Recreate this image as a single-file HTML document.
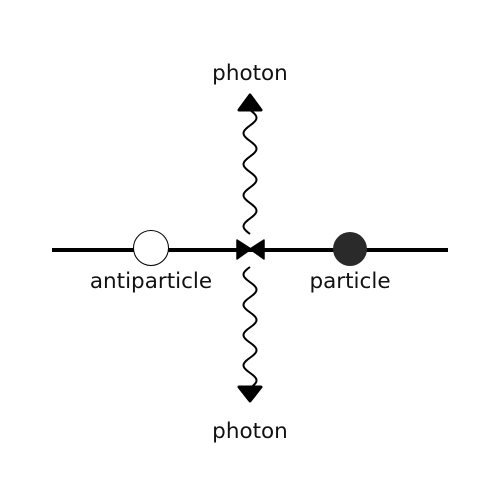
<!DOCTYPE html>
<html><head><meta charset="utf-8"><style>
body{margin:0;background:#fff}
svg{display:block}
text{font-family:"DejaVu Sans",sans-serif;font-size:21.5px;fill:#111}
</style></head><body>
<svg width="500" height="500">
<line x1="52" y1="250" x2="448" y2="250" stroke="#000" stroke-width="4"/>
<circle cx="151" cy="248" r="17.5" fill="#fff" stroke="#000" stroke-width="1"/>
<circle cx="350" cy="249" r="17" fill="#2a2a2a"/>
<path d="M237,240 L251,249 L237,259 Z M264,240 L250,249 L264,259 Z" fill="#000" stroke="#000" stroke-width="1.5" stroke-linejoin="round"/>
<path id="w1" fill="none" stroke="#000" stroke-width="2"/>
<path id="w2" fill="none" stroke="#000" stroke-width="2"/>
<path d="M250,95 L261,110 L239,110 Z" fill="#000" stroke="#000" stroke-width="3" stroke-linejoin="round"/>
<path d="M250,401 L261,387 L239,387 Z" fill="#000" stroke="#000" stroke-width="3" stroke-linejoin="round"/>
<text x="250" y="80" text-anchor="middle">photon</text>
<text x="250" y="438" text-anchor="middle">photon</text>
<text x="151" y="288" text-anchor="middle">antiparticle</text>
<text x="350" y="288" text-anchor="middle">particle</text>
</svg>
<script>
function wave(y0,y1){let d='';const n=120;for(let i=0;i<=n;i++){const t=i/n;const y=y0+(y1-y0)*t;const x=250-6.5*Math.sin(t*Math.PI*2*4);d+=(i?'L':'M')+x.toFixed(2)+','+y.toFixed(2);}return d;}
document.getElementById('w1').setAttribute('d',wave(234,110));
document.getElementById('w2').setAttribute('d',wave(267,388));
</script>
</body></html>
